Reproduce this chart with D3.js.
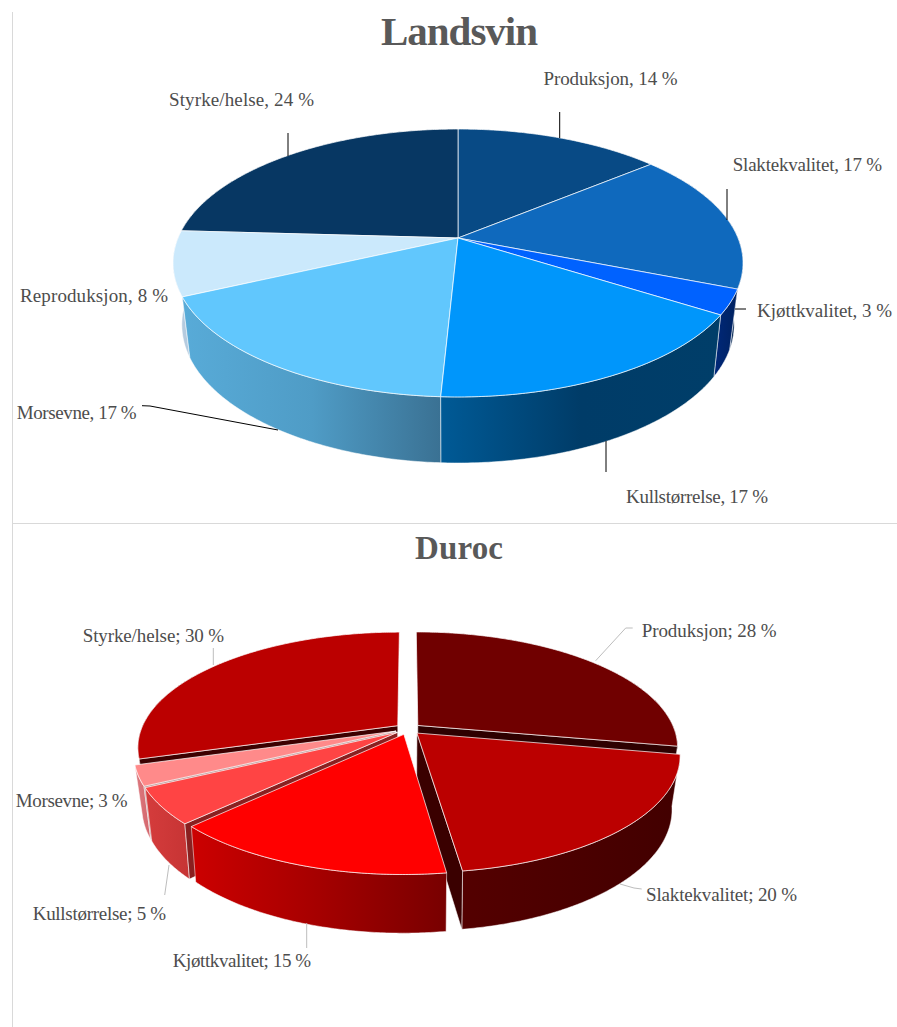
<!DOCTYPE html>
<html>
<head>
<meta charset="utf-8">
<script src="https://cdn.jsdelivr.net/npm/d3@7"></script>
<style>html,body{margin:0;padding:0;background:#fff}svg{display:block}</style>
</head>
<body>
<div id="chart"></div>
<script>
// ---- data ----
const landsvinCategories = ["Produksjon","Slaktekvalitet","Kjøttkvalitet","Kullstørrelse","Morsevne","Reproduksjon","Styrke/helse"];
const landsvinValues = [14, 17, 3, 16.8, 17.3, 7.8, 24.1];
const landsvinTop = ["#084a85","#0f69bd","#0062ff","#0096fb","#61c7fd","#cbe9fc","#073763"];
const landsvinWall = [["#053560","#053560"],["#002a5e","#00214d"],["#00287a","#00225f"],["#005a96","#003c68","#003e69"],["#58abd8","#4f9cc6","#3a7193"],["#b5cbdf","#b5cbdf"],["#052a4c","#052a4c"]];

const durocCategories = ["Produksjon","Slaktekvalitet","Kjøttkvalitet","Kullstørrelse","Morsevne","Styrke/helse"];
const durocValues = [27.9, 19.9, 14.8, 5, 2.8, 29.6];
const durocTop = ["#700000","#bb0000","#ff0000","#ff4444","#ff8a8a","#bb0000"];
const durocWall = [["#4a0000","#300000"],["#540000","#420000"],["#cc0000","#a50000","#780000"],["#d53c3c","#c63434"],["#dc7a80","#d4666c"],["#700000","#700000"]];
const durocCut = ["#2e0000","#3a0000","#8a0000","#8a2020","#b89090","#3c0000"];
const durocCutSide = ["endAngle","endAngle",null,"startAngle","startAngle","startAngle"];

// ---- layout (not data) ----
const layouts = [
  { categories: landsvinCategories, values: landsvinValues, top: landsvinTop, wall: landsvinWall, cut: null, cutSide: null,
    order: [0,6,1,5,2,4,3], sep: ", ", explode: 0,
    topPlane: {x:458, y:238, A:280, B:129.3, k:0.1865},
    botPlane: {x:458, y:297, A:270.6, B:132.8, k:0.2},
    title: {text:"Landsvin", x:381, y:45, w:157, size:41},
    labels: [[543.5,85,134],[732.7,170.7,149.5],[757,316.7,135],[626,503,142],[16.7,419,120],[20,301.7,148],[169,106,145]],
    leaderColor: "#000",
    leaders: [[[559.7,112],[559.7,138]],[[727,189],[727,220]],[[735,309],[746,309]],[[606,441],[606,472]],[[142,405.7],[150,406],[278,430]],[[288,133],[288,156]]]
  },
  { categories: durocCategories, values: durocValues, top: durocTop, wall: durocWall, cut: durocCut, cutSide: durocCutSide,
    order: [0,5,4,3,1,2], sep: "; ", explode: 0.05,
    topPlane: {x:408, y:729, A:256.5, B:112, k:0.185},
    botPlane: {x:408, y:780, A:248, B:115.6, k:0.2},
    title: {text:"Duroc", x:415, y:559, w:88, size:33},
    labels: [[641.7,636.7,135],[646,901,151],[172.7,967,138.5],[32.7,920,133.5],[15.7,806.7,112],[82.7,641.7,141.5]],
    leaderColor: "#bdbdbd",
    leaders: [[[632.7,628],[625.7,628],[595.7,660.7]],[[641.7,889],[634,888],[620,884]],[[306.7,923],[306.7,948]],[[169,865],[164.7,895]],[[213.3,648],[213.3,665]]]
  }
];

const svg = d3.select("#chart").append("svg").attr("width",897).attr("height",1027);
const defs = svg.append("defs");

// frame lines
svg.append("line").attr("x1",12.5).attr("x2",12.5).attr("y1",12).attr("y2",1027).attr("stroke","#d9d9d9");
svg.append("line").attr("x1",12).attr("x2",897).attr("y1",523.5).attr("y2",523.5).attr("stroke","#d9d9d9");

const pie = d3.pie().sort(null).value(d => d).startAngle(0).endAngle(2*Math.PI);
const line = d3.line();
const pct = d3.format(".0f");
const FONT = "'Liberation Serif', serif";

// projective map of the pie plane onto the screen
function project(plane, p, q) {
  const w = 1 + plane.k * q;
  return [plane.x + plane.A * p / w, plane.y - plane.B * q / w];
}

layouts.forEach((c, ci) => {
  const g = svg.append("g");
  const arcs = pie(c.values);
  const total = d3.sum(c.values);

  const offset = a => {
    const m = (a.startAngle + a.endAngle) / 2;
    return [c.explode * Math.sin(m), c.explode * Math.cos(m)];
  };
  const rimPt = (plane, a, t) => {
    const [ox, oy] = offset(a);
    return project(plane, ox + Math.sin(t), oy + Math.cos(t));
  };
  const apexPt = (plane, a) => {
    const [ox, oy] = offset(a);
    return project(plane, ox, oy);
  };
  const sweep = a => {
    const n = Math.max(4, Math.ceil((a.endAngle - a.startAngle) / 0.01));
    return d3.range(n + 1).map(i => a.startAngle + (a.endAngle - a.startAngle) * i / n);
  };

  c.order.forEach(i => {
    const a = arcs[i];
    const angles = sweep(a);
    const topRim = angles.map(t => rimPt(c.topPlane, a, t));

    // outer wall with horizontal gradient: only the part of the rim facing the viewer
    const wallAngles = angles.filter(t => Math.cos(t) < 0.5);
    if (wallAngles.length > 1) {
      const wallTop = wallAngles.map(t => rimPt(c.topPlane, a, t));
      const wallBot = wallAngles.map(t => rimPt(c.botPlane, a, t)).reverse();
      const wallPts = wallTop.concat(wallBot);
      const id = "wall-" + ci + "-" + i;
      const [x1, x2] = d3.extent(wallPts, p => p[0]);
      const stopScale = d3.scaleLinear().domain([0, c.wall[i].length - 1]).range([0, 100]);
      const grad = defs.append("linearGradient").attr("id", id)
        .attr("gradientUnits", "userSpaceOnUse")
        .attr("x1", x1).attr("x2", x2).attr("y1", 0).attr("y2", 0);
      c.wall[i].forEach((col, j) => grad.append("stop").attr("offset", stopScale(j) + "%").attr("stop-color", col));
      g.append("path").attr("d", line(wallPts) + "Z")
        .attr("fill", "url(#" + id + ")")
        .attr("stroke", "#fff").attr("stroke-opacity", 0.65).attr("stroke-width", 0.8);
    }

    // the visible cut face of an exploded slice
    if (c.cut && c.cutSide[i]) {
      const t = a[c.cutSide[i]];
      g.append("path")
        .attr("d", line([apexPt(c.topPlane,a), rimPt(c.topPlane,a,t), rimPt(c.botPlane,a,t), apexPt(c.botPlane,a)]) + "Z")
        .attr("fill", c.cut[i])
        .attr("stroke", "#fff").attr("stroke-opacity", 0.7).attr("stroke-width", 0.8);
    }

    // top face
    g.append("path").attr("d", line([apexPt(c.topPlane, a)].concat(topRim)) + "Z")
      .attr("fill", c.top[i])
      .attr("stroke", "#fff").attr("stroke-opacity", 0.7).attr("stroke-width", 1);
  });

  // leader lines
  g.selectAll("path.leader").data(c.leaders).join("path").attr("class","leader")
    .attr("d", d => line(d)).attr("fill","none")
    .attr("stroke", c.leaderColor).attr("stroke-width", 1);

  // labels
  g.selectAll("text.lab").data(c.categories).join("text").attr("class","lab")
    .attr("x", (d,i) => c.labels[i][0]).attr("y", (d,i) => c.labels[i][1])
    .attr("textLength", (d,i) => c.labels[i][2])
    .attr("font-family", FONT).attr("font-size", 19).attr("fill", "#4d4d4d")
    .text((d,i) => d + c.sep + pct(c.values[i] / total * 100) + " %");

  // title
  g.append("text").attr("x", c.title.x).attr("y", c.title.y)
    .attr("textLength", c.title.w)
    .attr("font-family", FONT).attr("font-weight", "bold")
    .attr("font-size", c.title.size).attr("fill", "#595959")
    .text(c.title.text);
});
</script>
</body>
</html>
